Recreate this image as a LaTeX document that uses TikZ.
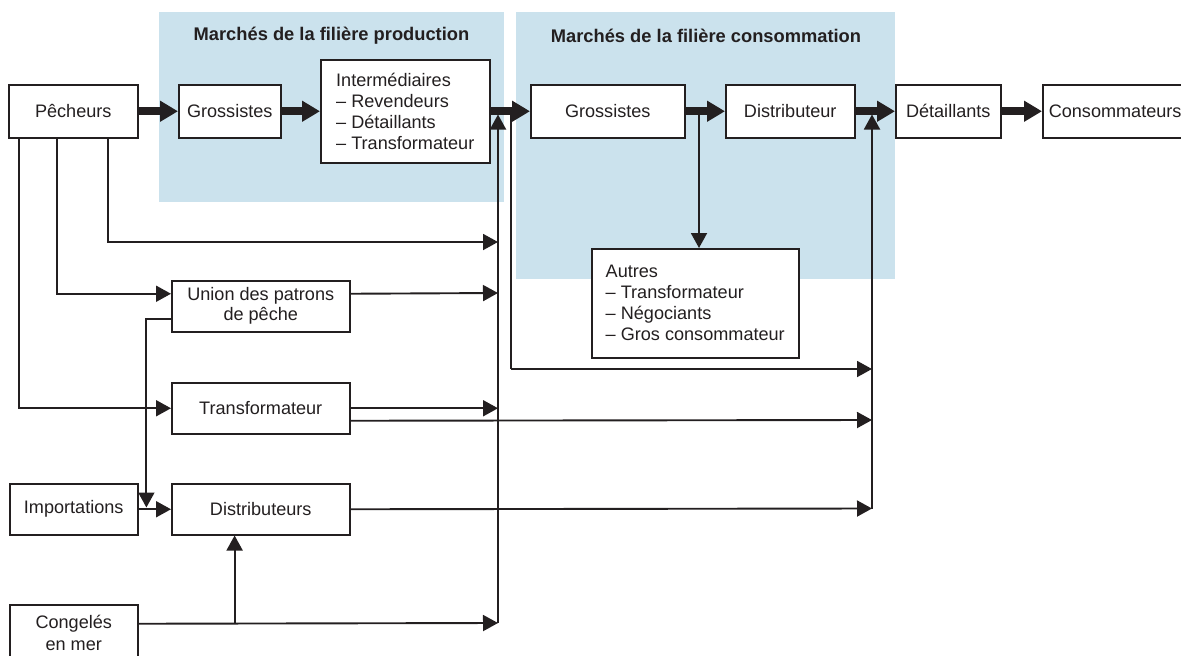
\documentclass[tikz,border=0pt]{standalone}
\usepackage{fontspec}
\setmainfont{Liberation Sans}
\usetikzlibrary{arrows.meta,calc}
\definecolor{ink}{RGB}{35,31,32}
\definecolor{zone}{RGB}{203,226,237}

\begin{document}
\begin{tikzpicture}[x=1pt,y=-1pt,
  font=\fontsize{18.1}{21}\selectfont,
  box/.style={draw=ink, line width=1.5pt, fill=white, text=ink, inner sep=0pt, anchor=north west},
  flow/.style={draw=ink, line width=1.9pt, -{Triangle[length=15pt,width=16pt]}},
  link/.style={draw=ink, line width=1.9pt},
  main/.style={draw=ink, line width=8pt, -{Triangle[length=18pt,width=20pt]}},
  head/.style={text=ink, font=\fontsize{18.3}{20}\selectfont\bfseries}]

\useasboundingbox (0,0) rectangle (1181,656);

% market zones
\fill[zone] (159,12) rectangle (504,202);
\fill[zone] (516,12) rectangle (895,279);
\node[head] (head1) at (331.5,36) {Marchés de la filière production};
\node[head] (head2) at (706,36) {Marchés de la filière consommation};

% main chain
\node[box, minimum width=129pt, minimum height=53pt] (pech) at (8,84) {Pêcheurs};
\node[box, minimum width=102pt, minimum height=53pt] (gro1) at (178,84) {Grossistes};
\node[box, minimum width=169pt, minimum height=103pt, align=left] (inter) at (320,59)
  {Intermédiaires\\– Revendeurs\\– Détaillants\\– Transformateur};
\node[box, minimum width=154pt, minimum height=53pt] (gro2) at (530,84) {Grossistes};
\node[box, minimum width=129pt, minimum height=53pt] (distr) at (725,84) {Distributeur};
\node[box, minimum width=105pt, minimum height=53pt] (detail) at (895,84) {Détaillants};
\node[box, minimum height=53pt, inner xsep=6pt] (conso) at (1042,84) {Consommateurs};

% secondary boxes
\node[box, minimum width=207pt, minimum height=109pt, align=left] (autres) at (591,248)
  {Autres\\– Transformateur\\– Négociants\\– Gros consommateur};
\node[box, minimum width=178pt, minimum height=51pt, align=center,
  font=\fontsize{18.1}{20}\selectfont] (union) at (171,280) {Union des patrons\\de pêche};
\node[box, minimum width=178pt, minimum height=51pt] (transf) at (171,382) {Transformateur};
\node[box, minimum width=128pt, minimum height=51pt] (import) at (9,483) {Importations};
\node[box, minimum width=178pt, minimum height=51pt] (distrs) at (171,483) {Distributeurs};
\node[box, minimum width=128pt, minimum height=56pt, align=center,
  font=\fontsize{18.1}{22}\selectfont] (cong) at (9,604) {Congelés\\en mer};

% thick arrows along the chain
\draw[main] (pech.east) -- (gro1.west);
\draw[main] (gro1.east) -- (inter.west);
\draw[main] (inter.east) -- (gro2.west);
\draw[main] (gro2.east) -- (distr.west);
\draw[main] (distr.east) -- (detail.west);
\draw[main] (detail.east) -- (conso.west);

% collector lines
\coordinate (c1top) at (498,114.5);
\coordinate (c1bot) at (498,623);
\coordinate (c2top) at (511,112);
\coordinate (c2bot) at (511,369);
\coordinate (c3top) at (872,114.5);
\coordinate (c3bot) at (872,508.5);
\coordinate (gtap) at (699,112);
\coordinate (cbranch) at (234.6,623);

\draw[flow] (c1bot) -- (c1top);
\draw[link] (c2top) -- (c2bot);
\draw[flow] (c2bot) -- (c3top |- c2bot);
\draw[flow] (c3bot) -- (c3top);
\draw[flow] (gtap) -- (gtap |- autres.north);

% from the fishermen
\draw[flow] (pech.south -| 108,0) |- (c1top |- 0,242);
\draw[flow] (pech.south -| 57,0) |- ([yshift=12.5pt]union.west);
\draw[flow] (pech.south -| 18.6,0) |- (transf.west);

% union, transformer, distributors
\draw[flow] ([yshift=12.5pt]union.east) -- (c1top |- 0,293);
\draw[flow] ([yshift=-12.5pt]union.west) -| (146.4,507.5);
\draw[flow] (transf.east) -- (c1top |- transf.east);
\draw[flow] ([yshift=-12.5pt]transf.east) -- (c3top |- 0,420);
\draw[flow] (import.east) -- (distrs.west);
\draw[flow] (distrs.east) -- (c3bot);

% frozen at sea
\draw[flow] ([yshift=9pt]cong.east) -- (c1bot);
\draw[flow] (cbranch) -- (cbranch |- distrs.south);
\end{tikzpicture}
\end{document}
